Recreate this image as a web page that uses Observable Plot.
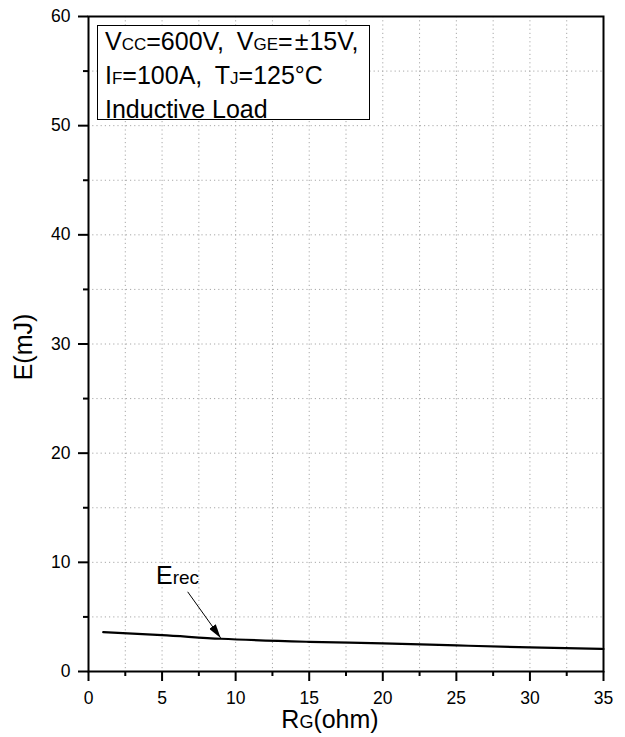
<!DOCTYPE html>
<html><head><meta charset="utf-8">
<script src="https://cdn.jsdelivr.net/npm/d3@7"></script>
<script src="https://cdn.jsdelivr.net/npm/@observablehq/plot@0.6"></script>
<style>
body{margin:0;background:#fff;font-family:"Liberation Sans",Arial,sans-serif;}
#wrap{position:relative;width:625px;height:737px;}
#legend{position:absolute;left:97px;top:25px;width:273px;height:95px;box-sizing:border-box;border:1px solid #000;background:#fff;padding:0 0 0 7px;font-size:25px;line-height:31px;color:#000;white-space:nowrap;}
#legend .l0,#legend .l1{word-spacing:6px;}
#legend .s{font-size:17px;}
#legend .pm{padding:0 1px 0 2px;}
</style></head><body>
<div id="wrap"></div>
<script>
// Data
const rgOhm = [1, 5, 9, 15, 20, 25, 30, 35];
const eRec  = [3.6, 3.33, 3.0, 2.72, 2.58, 2.39, 2.21, 2.06];
const xMajor = [0, 5, 10, 15, 20, 25, 30, 35];
const xMinor = [2.5, 7.5, 12.5, 17.5, 22.5, 27.5, 32.5];
const yMajor = [0, 10, 20, 30, 40, 50, 60];
const yMinor = [5, 15, 25, 35, 45, 55];
const curveLabel = ["E", "rec"];
const labelAt = [4.62, 7.96];
const arrowFrom = [6.74, 7.3];
const arrowTo = [8.98, 3.08];
const legendLines = [
  [["V",0],["CC",1],["=600V, V",0],["GE",1],["=",0],["±",2],["15V,",0]],
  [["I",0],["F",1],["=100A, T",0],["J",1],["=125°C",0]],
  [["Inductive Load",0]]
];

const pts = rgOhm.map((x, i) => ({x, y: eRec[i]}));
const arrowData = [{x1: arrowFrom[0], y1: arrowFrom[1], x2: arrowTo[0], y2: arrowTo[1]}];
const gridStyle = {stroke: "#a8a8a8", strokeOpacity: 1, strokeWidth: 1, strokeDasharray: "1.2,3"};

const chart = Plot.plot({
  width: 625, height: 737,
  marginLeft: 88, marginRight: 22, marginTop: 16, marginBottom: 66,
  style: {fontFamily: "'Liberation Sans', Arial, sans-serif", fontSize: "17.5px", color: "#000", background: "#fff", overflow: "visible"},
  x: {domain: [0, 35]},
  y: {domain: [0, 60]},
  marks: [
    Plot.gridX(xMajor.concat(xMinor), gridStyle),
    Plot.gridY(yMajor.concat(yMinor), gridStyle),
    Plot.line(pts, {x: "x", y: "y", stroke: "#000", strokeWidth: 2.2, curve: "monotone-x"}),
    Plot.link(arrowData, {x1: "x1", y1: "y1", x2: "x2", y2: "y2", stroke: "#000", strokeWidth: 1}),
    Plot.frame({stroke: "#000", strokeWidth: 2}),
    Plot.axisX(xMajor, {tickSize: 10, tickPadding: 10, strokeWidth: 2, label: null, fontSize: 17.5}),
    Plot.axisX(xMinor, {tickSize: 5, tickFormat: () => "", strokeWidth: 2, label: null}),
    Plot.axisY(yMajor, {tickSize: 10, tickPadding: 8, strokeWidth: 2, label: null, fontSize: 17.5}),
    Plot.axisY(yMinor, {tickSize: 5, tickFormat: () => "", strokeWidth: 2, label: null})
  ]
});

const wrap = document.getElementById("wrap");
wrap.appendChild(chart);
const svg = d3.select(chart);
const sx = chart.scale("x"), sy = chart.scale("y");

// arrow head marker
svg.append("defs").append("marker")
  .attr("id", "ah").attr("viewBox", "0 0 14 8").attr("refX", 14).attr("refY", 4)
  .attr("markerWidth", 14).attr("markerHeight", 8).attr("markerUnits", "userSpaceOnUse")
  .attr("orient", "auto")
  .append("path").attr("d", "M0,0L14,4L0,8Z").attr("fill", "#000");
svg.selectAll('g[aria-label="link"] path').attr("marker-end", "url(#ah)");

// curve label
const lab = svg.append("text")
  .attr("x", sx.apply(labelAt[0])).attr("y", sy.apply(labelAt[1]))
  .attr("text-anchor", "start")
  .attr("fill", "#000").attr("font-family", "'Liberation Sans', Arial, sans-serif");
lab.append("tspan").attr("font-size", 25).text(curveLabel[0]);
lab.append("tspan").attr("font-size", 19).text(curveLabel[1]);

// axis titles
const xt = svg.append("text").attr("x", 330).attr("y", 728).attr("text-anchor", "middle")
  .attr("fill", "#000").attr("font-family", "'Liberation Sans', Arial, sans-serif");
xt.append("tspan").attr("font-size", 25).text("R");
xt.append("tspan").attr("font-size", 18).text("G");
xt.append("tspan").attr("font-size", 25).text("(ohm)");

svg.append("text").attr("transform", "translate(32,347) rotate(-90)").attr("text-anchor", "middle")
  .attr("fill", "#000").attr("font-family", "'Liberation Sans', Arial, sans-serif")
  .attr("font-size", 25).text("E(mJ)");

// legend box
const lg = document.createElement("div");
lg.id = "legend";
lg.innerHTML = legendLines.map((line, i) => `<div class="l${i}">` + line.map(([t, s]) =>
  s === 1 ? `<span class="s">${t}</span>` : s === 2 ? `<span class="pm">${t}</span>` : t).join("") + "</div>").join("");
wrap.appendChild(lg);
</script>
</body></html>
